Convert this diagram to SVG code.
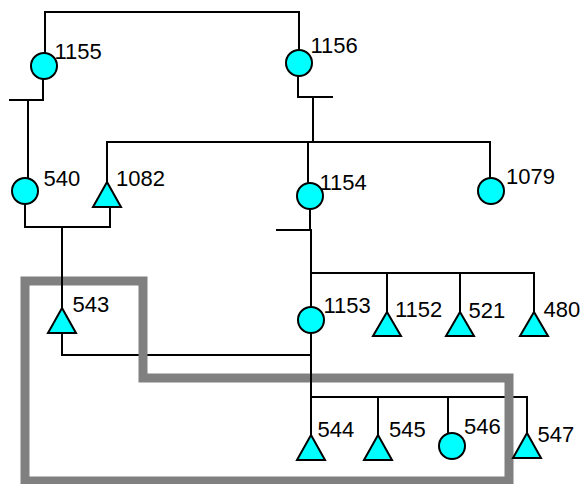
<svg xmlns="http://www.w3.org/2000/svg" width="581" height="484" viewBox="0 0 581 484">
<style>
.ln{fill:none;stroke:#000;stroke-width:2;stroke-linecap:square}
.nd{fill:#00FFFF;stroke:#000;stroke-width:2;stroke-linejoin:miter}
.lb{font-family:"Liberation Sans",Arial,sans-serif;font-size:22px;fill:#000}
.hl{fill:none;stroke:#808080;stroke-width:9;stroke-linejoin:miter}
</style>
<rect width="581" height="484" fill="#fff"/>
<g id="connectors-horizontal" class="ln">
<path d="M45,12H299 M10,100H43 M298,97H332 M107,142H490 M25,227H110 M277,230H310 M311,273H534 M62,355H311 M311,397H527"/>
</g>
<g id="highlight">
<path class="hl" d="M25,281H143V378H509V481H25Z"/>
</g>
<g id="connectors-vertical" class="ln">
<path d="M45,12V53 M43,79V100 M28,100V178 M299,12V50 M298,76V97 M313,97V142 M107,142V182 M308,142V183 M490,142V178 M25,204V227 M110,207V227 M62,227V308 M310,209V230 M311,230V307 M387,273V312 M460,273V312 M534,273V312 M62,333V355 M311,333V435 M378,397V435 M448,397V433 M527,397V433"/>
</g>
<g id="n1155"><circle class="nd" cx="44" cy="66" r="13"/><text class="lb" x="54.5" y="59">1155</text></g>
<g id="n1156"><circle class="nd" cx="299" cy="63" r="13"/><text class="lb" x="310.5" y="53">1156</text></g>
<g id="n540"><circle class="nd" cx="25" cy="191" r="13"/><text class="lb" x="43.5" y="185.5">540</text></g>
<g id="n1082"><polygon class="nd" points="107,182 121,207 93,207"/><text class="lb" x="116" y="185.5">1082</text></g>
<g id="n1154"><circle class="nd" cx="310" cy="196" r="13"/><text class="lb" x="319.5" y="190">1154</text></g>
<g id="n1079"><circle class="nd" cx="491" cy="191" r="13"/><text class="lb" x="506" y="184">1079</text></g>
<g id="n543"><polygon class="nd" points="62,308 76,333 48,333"/><text class="lb" x="72.5" y="311.5">543</text></g>
<g id="n1153"><circle class="nd" cx="311" cy="320" r="13"/><text class="lb" x="323.5" y="313">1153</text></g>
<g id="n1152"><polygon class="nd" points="387,312 401,336 373,336"/><text class="lb" x="395" y="316.5">1152</text></g>
<g id="n521"><polygon class="nd" points="460,312 474,336 446,336"/><text class="lb" x="468.5" y="318">521</text></g>
<g id="n480"><polygon class="nd" points="534,312 548,336 520,336"/><text class="lb" x="543.5" y="316.5">480</text></g>
<g id="n544"><polygon class="nd" points="311,435 325,460 297,460"/><text class="lb" x="317.5" y="436.5">544</text></g>
<g id="n545"><polygon class="nd" points="378,435 392,460 364,460"/><text class="lb" x="389" y="436.5">545</text></g>
<g id="n546"><circle class="nd" cx="452" cy="446" r="13"/><text class="lb" x="464" y="434">546</text></g>
<g id="n547"><polygon class="nd" points="527,433 541,458 513,458"/><text class="lb" x="537.5" y="441.5">547</text></g>
</svg>
